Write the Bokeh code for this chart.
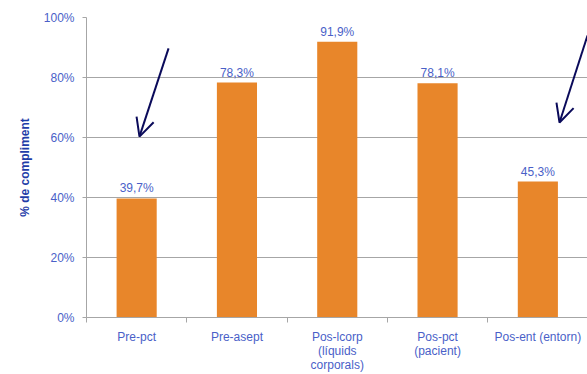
from bokeh.plotting import figure
from bokeh.models import FixedTicker, Range1d, Arrow, OpenHead, ColumnDataSource
from bokeh.embed import file_html
from bokeh.resources import INLINE
from bokeh.core.properties import value

categories = ["Pre-pct", "Pre-asept", "Pos-lcorp\n(líquids\ncorporals)", "Pos-pct\n(pacient)", "Pos-ent (entorn)"]
values = [39.7, 78.3, 91.9, 78.1, 45.3]
value_labels = ["39,7%", "78,3%", "91,9%", "78,1%", "45,3%"]
y_ticks = [0, 20, 40, 60, 80, 100]
y_tick_labels = ["0%", "20%", "40%", "60%", "80%", "100%"]

FONT = "Liberation Sans"
BLUE = "#4a5fc8"
ORANGE = "#e8862a"
NAVY = "#0a0a5a"
GRID = "#a6a6a6"

xs = [i + 0.5 for i in range(len(categories))]
src = ColumnDataSource(dict(x=xs, top=values, lab=value_labels))

p = figure(width=587, height=374, output_backend="svg", toolbar_location=None,
           x_range=Range1d(0, 4.995), y_range=Range1d(0, 100),
           min_border_left=86, min_border_right=0, min_border_top=17, min_border_bottom=57)
p.outline_line_color = None
p.background_fill_color = "white"
p.border_fill_color = "white"

p.vbar(x="x", top="top", width=0.4, bottom=0, source=src, fill_color=ORANGE, line_color=None)
p.text(x="x", y="top", text="lab", source=src, text_align="center", text_baseline="bottom",
       y_offset=-3, text_font=value(FONT), text_font_size="12px", text_color=BLUE)

# y axis
p.yaxis.ticker = FixedTicker(ticks=y_ticks)
p.yaxis.major_label_overrides = {t: l for t, l in zip(y_ticks, y_tick_labels)}
p.yaxis.axis_line_color = GRID
p.yaxis.major_tick_line_color = GRID
p.yaxis.major_tick_out = 4
p.yaxis.major_tick_in = 0
p.yaxis.minor_tick_line_color = None
p.yaxis.major_label_standoff = 8
p.yaxis.major_label_text_font = FONT
p.yaxis.major_label_text_font_size = "12px"
p.yaxis.major_label_text_color = BLUE
p.yaxis.axis_label = "% de compliment"
p.yaxis.axis_label_text_font = FONT
p.yaxis.axis_label_text_font_size = "12px"
p.yaxis.axis_label_text_font_style = "bold"
p.yaxis.axis_label_text_color = "#1f3da8"
p.yaxis.axis_label_standoff = 9

# x axis
p.xaxis.ticker = FixedTicker(ticks=xs, minor_ticks=list(range(len(categories) + 1)))
p.xaxis.major_label_overrides = {x: c for x, c in zip(xs, categories)}
p.xaxis.axis_line_color = GRID
p.xaxis.major_tick_line_color = None
p.xaxis.minor_tick_line_color = GRID
p.xaxis.minor_tick_out = 5
p.xaxis.minor_tick_in = 0
p.xaxis.major_label_standoff = 6
p.xaxis.major_label_text_font = FONT
p.xaxis.major_label_text_font_size = "12px"
p.xaxis.major_label_text_color = BLUE
p.xaxis.major_label_text_line_height = 1.0

p.xgrid.grid_line_color = None
p.ygrid.grid_line_color = GRID
p.ygrid.grid_line_width = 1

for (x0, y0, x1, y1) in [(0.818, 89.7, 0.528, 60.3), (4.995, 94.0, 4.716, 65.0)]:
    p.add_layout(Arrow(end=OpenHead(size=18, line_color=NAVY, line_width=2),
                       x_start=x0, y_start=y0, x_end=x1, y_end=y1,
                       line_color=NAVY, line_width=2))

open("out.html", "w").write(file_html(p, INLINE))
